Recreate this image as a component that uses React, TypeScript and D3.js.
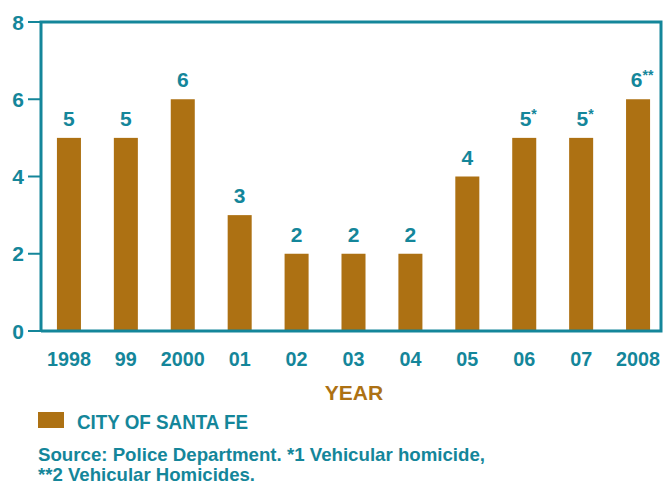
import React from "react";
import * as d3 from "d3";

const years = ["1998", "99", "2000", "01", "02", "03", "04", "05", "06", "07", "2008"];
const homicides = [5, 5, 6, 3, 2, 2, 2, 4, 5, 5, 6];
const valueLabels = ["5", "5", "6", "3", "2", "2", "2", "4", "5", "5", "6"];
const footnoteMarks = ["", "", "", "", "", "", "", "", "*", "*", "**"];
const yTicks = [0, 2, 4, 6, 8];

const teal = "#14869a";
const brown = "#ad7113";
const font = "'Liberation Sans', Arial, sans-serif";

export default function App() {
  const left = 41, right = 661, top = 22, bottom = 331;

  const x = d3.scaleBand<string>()
    .domain(years)
    .range([left, 666])
    .paddingInner(0.578)
    .paddingOuter(0.28);

  const y = d3.scaleLinear().domain([0, 8]).range([bottom, top]);

  return (
    <svg width={664} height={485} style={{ position: "absolute", left: 0, top: 0 }} fontFamily={font} fontWeight="bold">
      {/* bars */}
      {years.map((yr, i) => (
        <rect key={yr} x={x(yr)} y={y(homicides[i])} width={x.bandwidth()}
          height={bottom - y(homicides[i])} fill={brown} />
      ))}

      {/* value labels */}
      {years.map((yr, i) => (
        <text key={"v" + yr} x={(x(yr) as number) + x.bandwidth() / 2 + (footnoteMarks[i] ? 4 : 0)}
          y={y(homicides[i]) - 12} textAnchor="middle" fill={teal} fontSize={21}>
          {valueLabels[i]}
          {footnoteMarks[i] && <tspan fontSize={14} dy={-7}>{footnoteMarks[i]}</tspan>}
        </text>
      ))}

      {/* frame */}
      <path d={`M${left},${bottom}V${top}H${right}V${bottom}H${left}`} fill="none" stroke={teal} strokeWidth={3} />

      {/* y ticks */}
      {yTicks.map(t => (
        <g key={t}>
          <line x1={28} x2={left} y1={y(t)} y2={y(t)} stroke={teal} strokeWidth={2} />
          <text x={24} y={y(t) + 7.5} textAnchor="end" fill={teal} fontSize={21}>{t}</text>
        </g>
      ))}

      {/* x labels */}
      {years.map(yr => (
        <text key={"x" + yr} x={(x(yr) as number) + x.bandwidth() / 2} y={366}
          textAnchor="middle" fill={teal} fontSize={20} textLength={yr.length * 11} lengthAdjust="spacingAndGlyphs">{yr}</text>
      ))}

      <text x={354} y={400} textAnchor="middle" fill={brown} fontSize={21}>YEAR</text>

      {/* legend */}
      <rect x={38} y={412} width={26} height={16} fill={brown} />
      <text x={77} y={429} fill={teal} fontSize={20} textLength={171} lengthAdjust="spacingAndGlyphs">CITY OF SANTA FE</text>
      <text x={38} y={461} fill={teal} fontSize={19} textLength={447} lengthAdjust="spacingAndGlyphs">Source: Police Department. *1 Vehicular homicide,</text>
      <text x={38} y={481} fill={teal} fontSize={19} textLength={217} lengthAdjust="spacingAndGlyphs">**2 Vehicular Homicides.</text>
    </svg>
  );
}
